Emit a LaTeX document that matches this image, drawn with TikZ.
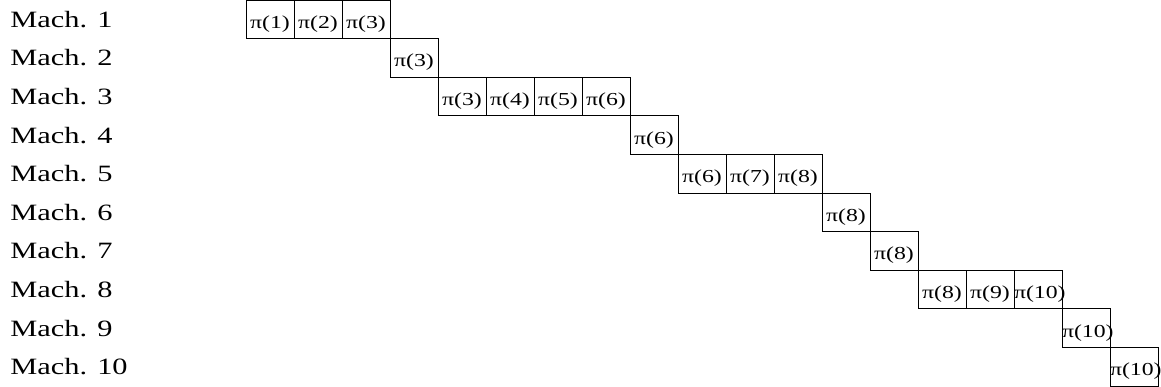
\documentclass[tikz,border=0pt]{standalone}
\usepackage{fontspec}
\setmainfont{Liberation Serif}[FakeStretch=1.3]
\usetikzlibrary{positioning}

\begin{document}
\begin{tikzpicture}[
    every node/.style={font=\fontsize{10.4}{12}\selectfont},
    machine/.style={anchor=west, inner sep=0pt, font=\fontsize{13.3}{16}\selectfont},
    job/.style={draw, text width=0.96cm, align=center, text height=0.36cm, text depth=0pt, minimum height=0.772cm, inner xsep=0pt, inner ysep=0pt, outer sep=0pt, line width=0.5pt}
]
    \useasboundingbox (0,0) rectangle (23.22,-7.74);

    % Maschinen
    \foreach \i in {1,...,10}
        \node[machine] (mach\i) at (0.2, {-(\i-0.5)*0.772}) {Mach. \i};

    % Mach. 1
    \node[job, anchor=north west] (j11) at (4.92,0) {π(1)};
    \node[job, right=0pt of j11] (j12) {π(2)};
    \node[job, right=0pt of j12] (j13) {π(3)};

    % Mach. 2
    \node[job, below right=0pt and 0pt of j13] (j21) {π(3)};

    % Mach. 3
    \node[job, below right=0pt and 0pt of j21] (j31) {π(3)};
    \node[job, right=0pt of j31] (j32) {π(4)};
    \node[job, right=0pt of j32] (j33) {π(5)};
    \node[job, right=0pt of j33] (j34) {π(6)};

    % Mach. 4
    \node[job, below right=0pt and 0pt of j34] (j41) {π(6)};

    % Mach. 5
    \node[job, below right=0pt and 0pt of j41] (j51) {π(6)};
    \node[job, right=0pt of j51] (j52) {π(7)};
    \node[job, right=0pt of j52] (j53) {π(8)};

    % Mach. 6 und 7
    \node[job, below right=0pt and 0pt of j53] (j61) {π(8)};
    \node[job, below right=0pt and 0pt of j61] (j71) {π(8)};

    % Mach. 8
    \node[job, below right=0pt and 0pt of j71] (j81) {π(8)};
    \node[job, right=0pt of j81] (j82) {π(9)};
    \node[job, right=0pt of j82] (j83) {π(10)};

    % Mach. 9 und 10
    \node[job, below right=0pt and 0pt of j83] (j91) {π(10)};
    \node[job, below right=0pt and 0pt of j91] (j101) {π(10)};

\end{tikzpicture}
\end{document}
